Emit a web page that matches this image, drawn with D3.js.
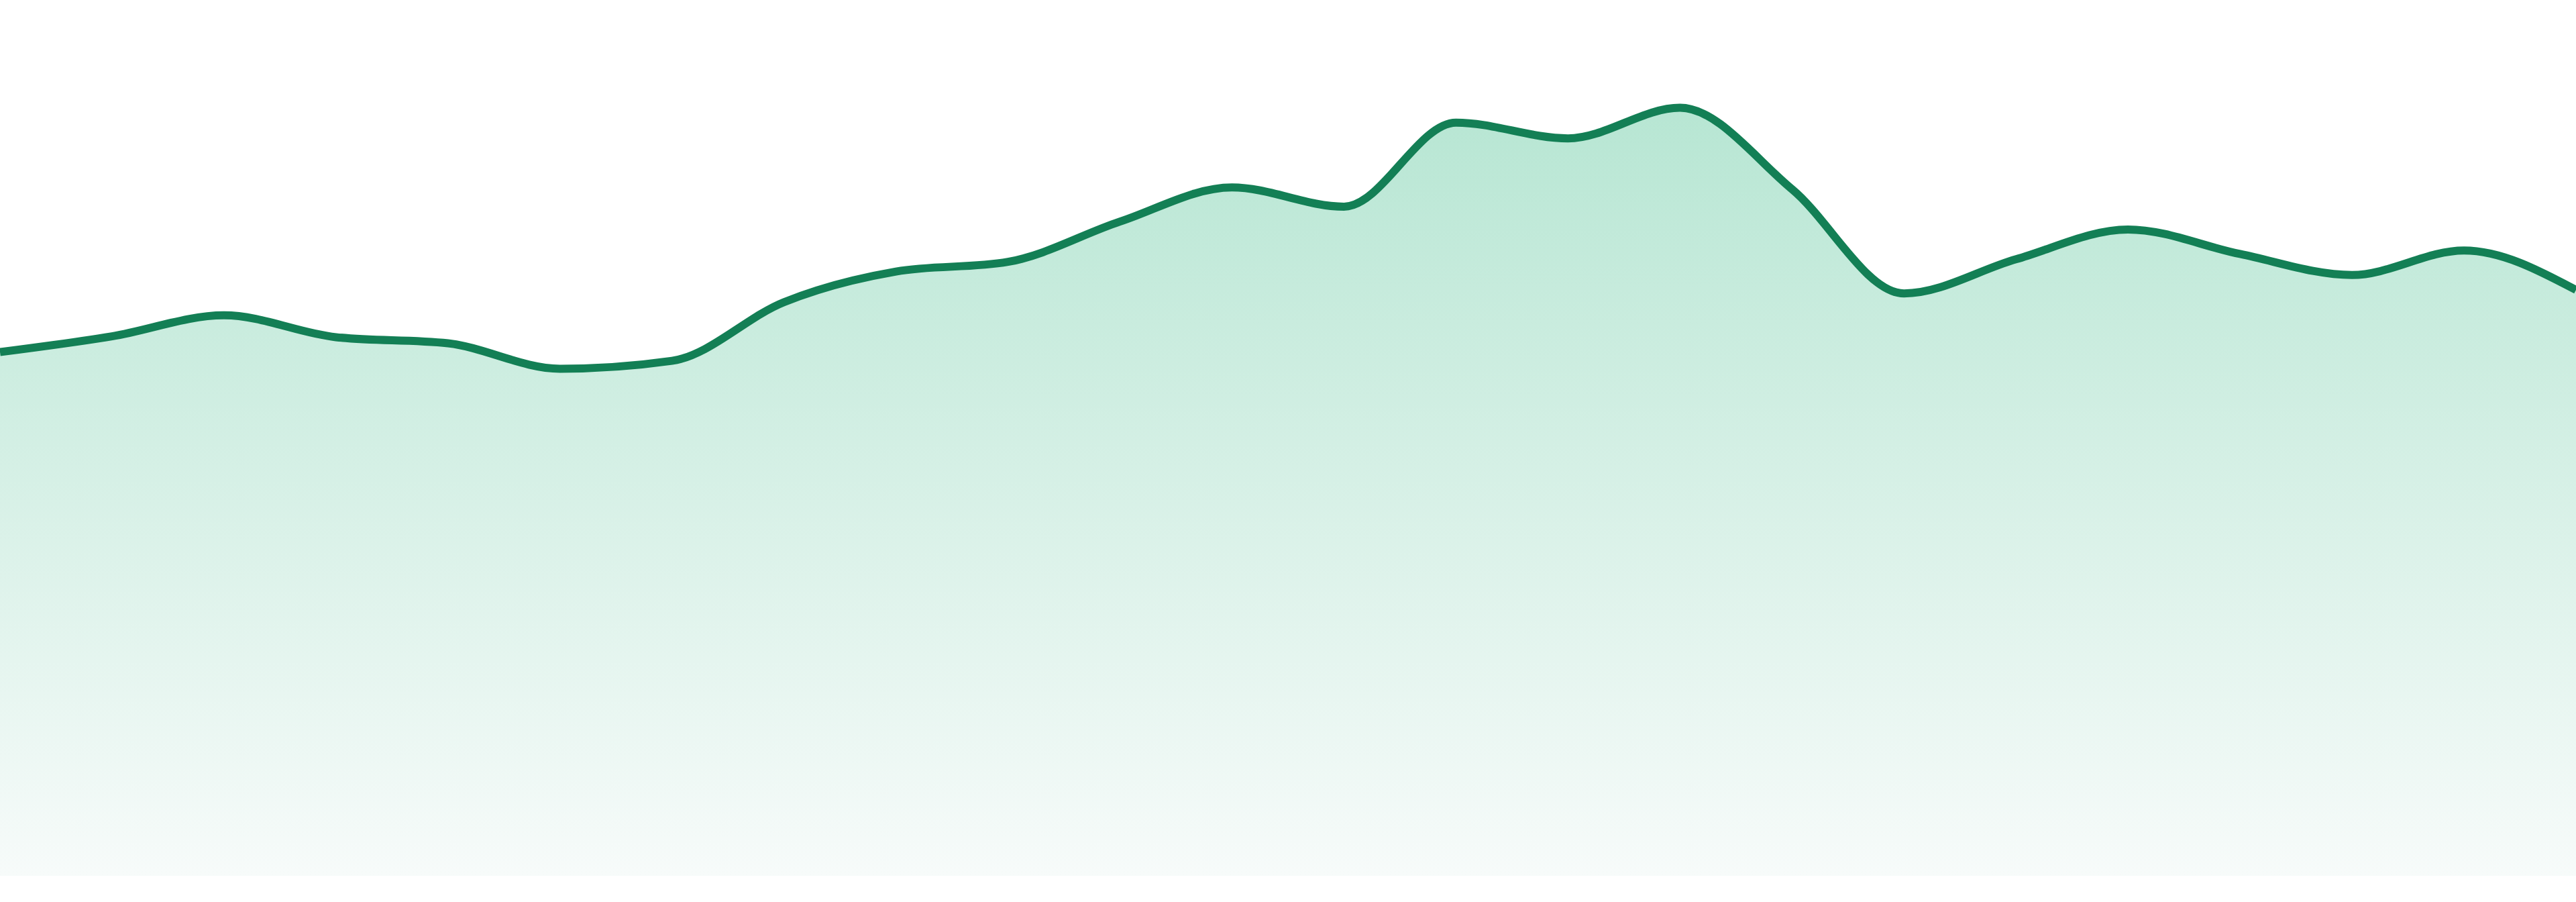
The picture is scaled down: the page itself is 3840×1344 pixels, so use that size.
<!DOCTYPE html>
<meta charset="utf-8">
<style>
  html, body { margin: 0; padding: 0; background: #fff; overflow: hidden; }
  .area { stroke: none; }
  .line { fill: none; stroke: #137f55; stroke-width: 12; stroke-linejoin: round; }
</style>
<div id="chart"></div>
<script src="https://cdn.jsdelivr.net/npm/d3@7"></script>
<script>

// 24 samples, no axes are shown in the picture
var categories = ["1", "2", "3", "4", "5", "6", "7", "8", "9", "10", "11", "12",
                  "13", "14", "15", "16", "17", "18", "19", "20", "21", "22", "23", "24"];
var values = [59.8, 61.6, 64.0, 61.5, 60.8, 57.9, 58.8, 65.5, 69.0, 70.1, 74.7, 78.6,
              76.4, 86.0, 84.2, 87.7, 78.4, 66.5, 70.4, 73.8, 71.0, 68.6, 71.4, 66.9];

var width = 3840, height = 1344;
var baseY = 1305;

var svg = d3.select("#chart").append("svg")
    .attr("width", width)
    .attr("height", height);

var x = d3.scalePoint()
    .domain(categories)
    .range([0, width]);

var y = d3.scaleLinear()
    .domain([0, 100])
    .range([baseY, 0]);

var data = categories.map(function(c, i) { return {cat: c, v: values[i]}; });

// vertical fade under the line
var grad = svg.append("defs").append("linearGradient")
    .attr("id", "fade")
    .attr("gradientUnits", "userSpaceOnUse")
    .attr("x1", 0).attr("x2", 0)
    .attr("y1", y(d3.max(values))).attr("y2", baseY);
grad.append("stop").attr("offset", "0%").attr("stop-color", "#b7e6d3");
grad.append("stop").attr("offset", "100%").attr("stop-color", "#f7fbfa");

var area = d3.area()
    .x(function(d) { return x(d.cat); })
    .y0(y(0))
    .y1(function(d) { return y(d.v); })
    .curve(d3.curveMonotoneX);

var line = d3.line()
    .x(function(d) { return x(d.cat); })
    .y(function(d) { return y(d.v); })
    .curve(d3.curveMonotoneX);

svg.append("path")
    .datum(data)
    .attr("class", "area")
    .attr("fill", "url(#fade)")
    .attr("d", area);

svg.append("path")
    .datum(data)
    .attr("class", "line")
    .attr("d", line);
</script>
